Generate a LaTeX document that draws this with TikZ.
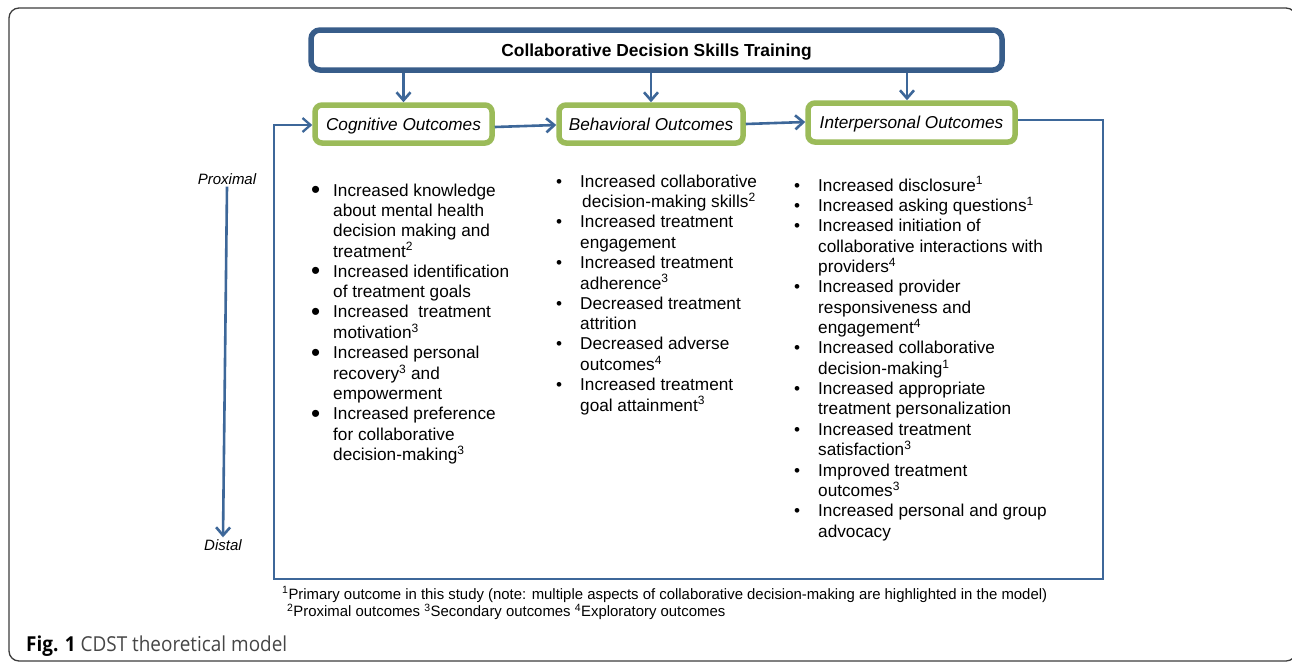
\documentclass[tikz,border=0pt]{standalone}
\usepackage{fontspec}
\setmainfont{Liberation Sans}
\newfontfamily\capfont{Open Sans}
\usetikzlibrary{arrows.meta,shadows,calc}
\definecolor{boxblue}{RGB}{56,93,138}
\definecolor{lineblue}{RGB}{74,126,187}
\definecolor{boxgreen}{RGB}{155,187,89}
\definecolor{framegray}{RGB}{60,60,60}
\definecolor{capgray}{RGB}{70,70,70}
\newcommand\bigbul{\llap{\smash{\raisebox{-2.6pt}{\fontsize{26}{26}\selectfont\textbullet}}\hspace{13pt}}}
\newcommand\smbul{\llap{\textbullet\hspace{18pt}}}
\begin{document}
\begin{tikzpicture}[x=1pt,y=-1pt,
  topbox/.style={draw=boxblue, line width=5.5pt, rounded corners=9pt, fill=white,
    drop shadow={opacity=0.25, shadow xshift=1.5pt, shadow yshift=-2pt},
    font=\fontsize{17.4}{20}\selectfont\bfseries, text height=12.3pt, text depth=0pt, inner sep=0pt},
  outbox/.style={draw=boxgreen, line width=5.5pt, rounded corners=7pt, fill=white,
    drop shadow={opacity=0.25, shadow xshift=1.5pt, shadow yshift=-2pt},
    font=\fontsize{17.2}{20}\selectfont\itshape, text height=12.3pt, text depth=0pt, inner sep=0pt},
  conn/.style={draw=boxblue!70!lineblue, line width=2.6pt, -{Straight Barb[length=8pt,width=14pt]}},
  listtext/.style={inner sep=0pt, anchor=base west, font=\fontsize{17.2}{20.2}\selectfont},
  axislabel/.style={inner sep=2pt, font=\fontsize{15}{18}\selectfont\itshape}
]
\useasboundingbox (0,0) rectangle (1292,662);
\fill[white] (0,0) rectangle (1292,662);
% outer frame
\draw[framegray, line width=1.3pt, rounded corners=10pt] (9,8) rectangle (1296,661);

% main boxes
\node[topbox, minimum width=691pt, minimum height=40pt] (cdst) at (656.5,50) {Collaborative Decision Skills Training};
\node[outbox, minimum width=177pt, minimum height=38pt] (cog) at (403.5,124) {Cognitive Outcomes};
\node[outbox, minimum width=184pt, minimum height=38pt] (beh) at (651,124) {Behavioral Outcomes};
\node[outbox, minimum width=207pt, minimum height=39pt] (int) at (911.5,122.5) {Interpersonal Outcomes};

% arrows from top box
\draw[conn] (cog.north |- cdst.south) -- (cog.north);
\draw[conn] (beh.north |- cdst.south) -- (beh.north);
\draw[conn] ([xshift=-4.5pt]int.north |- cdst.south) -- ([xshift=-4.5pt]int.north);

% chain arrows
\draw[conn] ([yshift=-3pt]cog.east) -- ([yshift=-1pt]beh.west);
\draw[conn] (beh.east) -- ([yshift=0.5pt]int.west);

% feedback loop
\coordinate (fr) at (1103,120);
\coordinate (fb1) at (1103,579);
\coordinate (fb2) at (274,579);
\coordinate (fl) at (274,125);
\draw[conn, line width=2.3pt] ([yshift=2.5pt]int.east) -- (fr) -- (fb1) -- (fb2) -- (fl) -- (cog.west |- fl);

% proximal / distal
\node[axislabel] (prox) at (227,179) {Proximal};
\node[axislabel] (dist) at (223,545) {Distal};
\draw[conn] (prox.south) -- (dist.north);

% lists
\node[listtext] (list1) at (333,196) {\begin{tabular}[t]{@{}l@{}}
\bigbul Increased knowledge\\
about mental health\\
decision making and\\
treatment\textsuperscript{2}\\
\bigbul Increased identification\\
of treatment goals\\
\bigbul Increased \ treatment\\
motivation\textsuperscript{3}\\
\bigbul Increased personal\\
recovery\textsuperscript{3} and\\
empowerment\\
\bigbul Increased preference\\
for collaborative\\
decision-making\textsuperscript{3}
\end{tabular}};

\node[listtext] (list2) at (580,187) {\begin{tabular}[t]{@{}l@{}}
\smbul Increased collaborative\\
\hspace{2pt}decision-making skills\textsuperscript{2}\\
\smbul Increased treatment\\
engagement\\
\smbul Increased treatment\\
adherence\textsuperscript{3}\\
\smbul Decreased treatment\\
attrition\\
\smbul Decreased adverse\\
outcomes\textsuperscript{4}\\
\smbul Increased treatment\\
goal attainment\textsuperscript{3}
\end{tabular}};

\node[listtext] (list3) at (818,191) {\begin{tabular}[t]{@{}l@{}}
\smbul Increased disclosure\textsuperscript{1}\\
\smbul Increased asking questions\textsuperscript{1}\\
\smbul Increased initiation of\\
collaborative interactions with\\
providers\textsuperscript{4}\\
\smbul Increased provider\\
responsiveness and\\
engagement\textsuperscript{4}\\
\smbul Increased collaborative\\
decision-making\textsuperscript{1}\\
\smbul Increased appropriate\\
treatment personalization\\
\smbul Increased treatment\\
satisfaction\textsuperscript{3}\\
\smbul Improved treatment\\
outcomes\textsuperscript{3}\\
\smbul Increased personal and group\\
advocacy
\end{tabular}};

% footnotes
\node[inner sep=0pt, anchor=base west, font=\fontsize{15}{16}\selectfont] (notes) at (282,599) {\resizebox{765pt}{\height}{\begin{tabular}[t]{@{}l@{}}
\textsuperscript{1}Primary outcome in this study (note: multiple aspects of collaborative decision-making are highlighted in the model)\\
\hspace{5pt}\textsuperscript{2}Proximal outcomes \textsuperscript{3}Secondary outcomes \textsuperscript{4}Exploratory outcomes
\end{tabular}}};

% caption
\node[inner sep=0pt, anchor=base west, font=\capfont\fontsize{20.6}{24}\selectfont] (caption) at (26,651) {\resizebox{261pt}{\height}{\textbf{Fig. 1} \textcolor{capgray}{CDST theoretical model}}};
\end{tikzpicture}
\end{document}
